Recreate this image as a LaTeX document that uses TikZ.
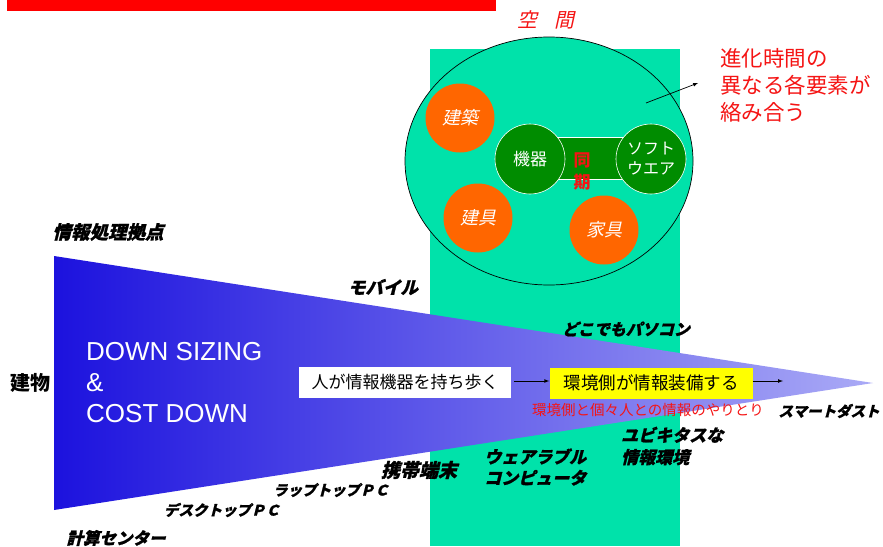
\documentclass[tikz,border=0pt]{standalone}
\usepackage{fontspec}
\setmainfont{Noto Sans CJK JP}
\newfontfamily\jp{Noto Sans CJK JP}
\newfontfamily\jpi[FakeSlant=0.22]{Noto Sans CJK JP}
\newfontfamily\jpbi[FakeSlant=0.25,FakeBold=1.2]{Noto Sans CJK JP}
\newfontfamily\arial{Liberation Sans}
\definecolor{redbar}{RGB}{255,0,0}
\definecolor{mint}{RGB}{0,226,170}
\definecolor{orng}{RGB}{255,102,0}
\definecolor{dgreen}{RGB}{0,140,0}
\definecolor{blueL}{RGB}{28,18,222}
\definecolor{blueR}{RGB}{170,170,246}
\definecolor{yel}{RGB}{255,255,0}
\definecolor{txtred}{RGB}{245,20,20}
\tikzset{
  orangec/.style={circle, fill=orng, minimum size=69pt, inner sep=0pt, text=white, font=\jpi\fontsize{18}{20}\selectfont},
  greenc/.style={circle, fill=dgreen, draw=white, line width=0.6pt, minimum size=70pt, inner sep=0pt, text=white, align=center, font=\jp\fontsize{17}{20}\selectfont},
  lbl/.style={inner sep=0pt, text=black, font=\jpbi\bfseries\fontsize{16}{21}\selectfont},
  boxw/.style={fill=white, inner sep=0pt, minimum width=212pt, minimum height=31pt, font=\jp\fontsize{17}{20}\selectfont},
  boxy/.style={fill=yel, inner sep=0pt, minimum width=203pt, minimum height=31pt, font=\jp\fontsize{17.5}{20}\selectfont},
  arr/.style={-latex, line width=0.7pt}
}
\begin{document}
\begin{tikzpicture}[x=1pt,y=-1pt]
\useasboundingbox (0,0) rectangle (883,546);
\fill[white] (0,0) rectangle (883,546);
% red bar
\fill[redbar] (7,0) rectangle (496,11);
% green band
\fill[mint] (430,49) rectangle (680,546);
% space ellipse
\draw[fill=mint, line width=0.7pt] (549,161) ellipse [x radius=144, y radius=124];
\fill[dgreen, draw=white, line width=0.6pt] (530,137) rectangle (651,179);
\node[orangec] (kenchiku) at (460,118) {建築};
\node[orangec] (tategu) at (478,218) {建具};
\node[orangec] (kagu) at (604,230) {家具};
\node[greenc] (kiki) at (530,159) {機器};
\node[greenc, font=\jp\fontsize{16}{20}\selectfont] (soft) at (651,159) {ソフト\\ウエア};
\node[inner sep=0pt, align=center, text=txtred, font=\jp\bfseries\fontsize{17}{22}\selectfont] (douki) at (582,171) {同\\期};
\node[inner sep=0pt, text=txtred, font=\jpi\fontsize{20}{24}\selectfont] (kukan) at (546,20) {空\hspace{17pt}間};
% note
\node[anchor=west, align=left, inner sep=0pt, text=txtred, font=\jp\fontsize{21.5}{27}\selectfont] (note) at (720,85) {進化時間の\\異なる各要素が\\絡み合う};
\coordinate (arrS) at (646,103);
\coordinate (arrE) at (698,83);
\draw[arr] (arrS) -- (arrE);
% triangle
\shade[left color=blueL, right color=blueR] (54,256) -- (873,383) -- (54,510) -- cycle;
% labels
\node[lbl, font=\jpbi\bfseries\fontsize{18.5}{21}\selectfont] (kyoten) at (108,232) {情報処理拠点};
\node[inner sep=0pt, font=\jp\bfseries\fontsize{20}{22}\selectfont] (tatemono) at (30,383) {建物};
\node[anchor=west, align=left, inner sep=0pt, text=white, font=\arial\fontsize{26}{31}\selectfont] (down) at (86,383) {DOWN SIZING\\\&\\COST DOWN};
\node[lbl, font=\jpbi\bfseries\fontsize{17.5}{21}\selectfont] (mobile) at (383,287) {モバイル};
\node[lbl] (dokodemo) at (626,329) {どこでもパソコン};
\node[lbl, font=\jpbi\bfseries\fontsize{14.5}{18}\selectfont] (smart) at (829,411) {スマートダスト};
\node[lbl, anchor=west, align=left, font=\jpbi\bfseries\fontsize{17}{22}\selectfont] (ubi) at (621,446) {ユビキタスな\\情報環境};
\node[lbl, anchor=west, align=left, font=\jpbi\bfseries\fontsize{17}{21}\selectfont] (wear) at (484,467) {ウェアラブル\\コンピュータ};
\node[lbl, font=\jpbi\bfseries\fontsize{19}{21}\selectfont] (keitai) at (419,470) {携帯端末};
\node[lbl, font=\jpbi\bfseries\fontsize{14.5}{18}\selectfont] (laptop) at (331,490) {ラップトップＰＣ};
\node[lbl, font=\jpbi\bfseries\fontsize{14.5}{18}\selectfont] (desktop) at (222,510) {デスクトップＰＣ};
\node[lbl, font=\jpbi\bfseries\fontsize{16.5}{20}\selectfont] (center) at (116,538) {計算センター};
% boxes and arrows
\node[boxw] (hito) at (405,382) {人が情報機器を持ち歩く};
\node[boxy] (kankyo) at (651,383) {環境側が情報装備する};
\coordinate (arr2E) at (783,381);
\draw[arr] (hito.east |- 0,381) ++(3,0) coordinate (a1s) -- (kankyo.west |- 0,381);
\draw[arr] (kankyo.east |- 0,381) -- (arr2E);
\node[inner sep=0pt, text=txtred, font=\jp\fontsize{14.5}{17}\selectfont] (yaritori) at (648,410) {環境側と個々人との情報のやりとり};
\end{tikzpicture}
\end{document}
